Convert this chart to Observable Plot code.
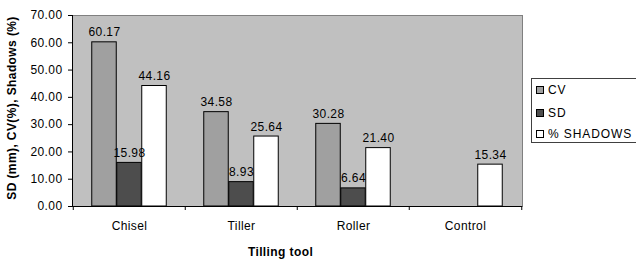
<!DOCTYPE html>
<html>
<head>
<meta charset="utf-8">
<script src="https://cdn.jsdelivr.net/npm/d3@7"></script>
<script src="https://cdn.jsdelivr.net/npm/@observablehq/plot@0.6"></script>
<style>
  html, body { margin: 0; padding: 0; background: #fff; }
  #wrap { position: relative; width: 636px; height: 260px; overflow: hidden; font-family: "Liberation Sans", Arial, sans-serif; }
  #legend { position: absolute; left: 531px; top: 78px; width: 120px; height: 63px; border: 1px solid #404040; background: #fff; font-size: 12px; letter-spacing: 0.9px; color: #000; }
  .item { position: absolute; left: 4px; height: 14px; line-height: 14px; white-space: nowrap; }
  .sw { display: inline-block; width: 6px; height: 6px; border: 1px solid #000; margin-right: 4px; vertical-align: 0px; }
</style>
</head>
<body>
<div id="wrap"></div>
<script>
const tools = ["Chisel", "Tiller", "Roller", "Control"];
const seriesNames = ["CV", "SD", "% SHADOWS"];
const cv = [60.17, 34.58, 30.28, null];
const sd = [15.98, 8.93, 6.64, null];
const shadows = [44.16, 25.64, 21.40, 15.34];
const yTicks = [0, 10, 20, 30, 40, 50, 60, 70];
const colors = ["#a0a0a0", "#4d4d4d", "#ffffff"];
const yTitle = "SD (mm), CV(%), Shadows (%)";
const xTitle = "Tilling tool";

const seriesValues = [cv, sd, shadows];
const rows = [];
seriesNames.forEach((s, i) => {
  tools.forEach((t, j) => {
    const v = seriesValues[i][j];
    if (v != null) rows.push({tool: t, series: s, value: v});
  });
});

const W = 636, H = 260, ML = 72, MR = 114, MT = 15, MB = 54;
const band = (W - ML - MR) / tools.length;
const barW = 25;
const inset = (band - barW) / 2;

const marks = [
  Plot.frame({fill: "#c0c0c0", stroke: "#808080"})
];
seriesNames.forEach((s, i) => {
  const d = rows.filter(r => r.series === s);
  marks.push(Plot.barY(d, {x: "tool", y: "value", fill: colors[i], stroke: "#000", strokeWidth: 1,
    insetLeft: inset, insetRight: inset, dx: (i - 1) * barW}));
});
seriesNames.forEach((s, i) => {
  const d = rows.filter(r => r.series === s);
  marks.push(Plot.text(d, {x: "tool", y: "value", text: r => r.value.toFixed(2), dx: (i - 1) * barW,
    dy: -6, lineAnchor: "bottom", textAnchor: "middle", fill: "#000", fontSize: 12}));
});
marks.push(
  Plot.ruleY([0], {stroke: "#000"}),
  Plot.frame({anchor: "left", stroke: "#000"}),
  Plot.axisY({ticks: yTicks, tickSize: 4, tickPadding: 6, tickFormat: d => d.toFixed(2), label: null, fontSize: 12}),
  Plot.axisX({tickSize: 0, tickPadding: 15, label: null, fontSize: 12}),
  Plot.axisX(tools, {tickSize: 4, tickFormat: () => "", dx: -band / 2, label: null}),
  Plot.axisX([tools[tools.length - 1]], {tickSize: 4, tickFormat: () => "", dx: band / 2, label: null}),
  Plot.text([xTitle], {frameAnchor: "bottom", dy: 46, dx: -17, lineAnchor: "middle", fontWeight: "bold", fontSize: 12, fill: "#000"}),
  Plot.text([yTitle], {frameAnchor: "left", dx: -60, dy: -3, rotate: -90, lineAnchor: "middle", textAnchor: "middle", fontWeight: "bold", fontSize: 12, fill: "#000"})
);

const chart = Plot.plot({
  width: W, height: H,
  marginLeft: ML, marginRight: MR, marginTop: MT, marginBottom: MB,
  style: {fontFamily: "'Liberation Sans', Arial, sans-serif", fontSize: "12px", letterSpacing: "0.4px", color: "#000", background: "#fff"},
  x: {domain: tools, padding: 0, axis: null},
  y: {domain: [0, 70], axis: null},
  marks
});
const wrap = document.getElementById("wrap");
wrap.appendChild(chart);

const legend = document.createElement("div");
legend.id = "legend";
const tops = [4, 27, 48];
seriesNames.forEach((s, i) => {
  const it = document.createElement("div");
  it.className = "item";
  it.style.top = tops[i] + "px";
  const sw = document.createElement("span");
  sw.className = "sw";
  sw.style.background = colors[i];
  it.appendChild(sw);
  it.appendChild(document.createTextNode(s));
  legend.appendChild(it);
});
wrap.appendChild(legend);
</script>
</body>
</html>
